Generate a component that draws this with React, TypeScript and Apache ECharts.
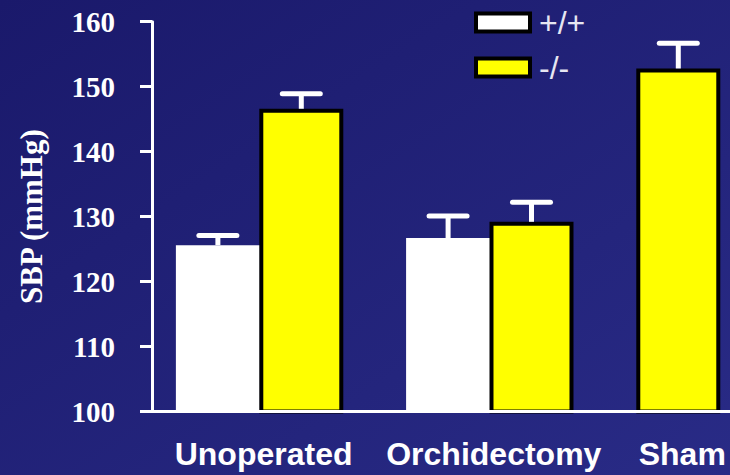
import { useEffect, useRef } from 'react';
import * as echarts from 'echarts';

// Systolic blood pressure by surgical group and genotype
const groups = ['Unoperated', 'Orchidectomy', 'Sham'];
const genotypes = ['+/+', '-/-'];
const wildType: (number | null)[] = [125.6, 126.7, null];
const wildTypeSem: (number | null)[] = [1.5, 3.4, null];
const knockout: (number | null)[] = [146.6, 129.2, 152.8];
const knockoutSem: (number | null)[] = [2.3, 3.0, 3.9];
const yTicks = [100, 110, 120, 130, 140, 150, 160];

// Horizontal layout in units of one bar width: bars of a group touch,
// groups are separated by a fixed gap, absent bars take no room.
const LEAD = 0.29;
const GROUP_GAP = 0.76;
const TAIL = 0.12;

function buildLayout() {
  const wt: number[][] = [];
  const ko: number[][] = [];
  const err: number[][] = [];
  const centers: number[] = [];
  let cursor = LEAD;
  groups.forEach((_, i) => {
    const start = cursor;
    const sets: [(number | null)[], (number | null)[], number[][]][] = [
      [wildType, wildTypeSem, wt],
      [knockout, knockoutSem, ko],
    ];
    sets.forEach(([vals, sems, out]) => {
      const v = vals[i];
      if (v == null) return;
      const x = cursor + 0.5;
      out.push([x, v]);
      err.push([x, v, v + (sems[i] ?? 0)]);
      cursor += 1;
    });
    centers.push((start + cursor) / 2);
    cursor += GROUP_GAP;
  });
  const xMax = cursor - GROUP_GAP + TAIL;
  return { wt, ko, err, centers, xMax };
}

export default function App() {
  const ref = useRef<HTMLDivElement>(null);

  useEffect(() => {
    if (!ref.current) return;
    const chart = echarts.init(ref.current, null, { renderer: 'svg' });
    const { wt, ko, err, centers, xMax } = buildLayout();

    const option: any = {
      animation: false,
      backgroundColor: new echarts.graphic.LinearGradient(0, 0, 1, 1, [
        { offset: 0, color: '#1a196b' },
        { offset: 1, color: '#292b86' },
      ]),
      grid: { left: 152, right: 0, top: 21.7, bottom: 63.5 },
      legend: {
        orient: 'vertical',
        left: 474,
        top: 6.5,
        padding: 0,
        itemWidth: 54,
        itemHeight: 18,
        itemGap: 13,
        selectedMode: false,
        icon: 'rect',
        textStyle: {
          color: '#e6e6f2',
          fontFamily: '"Liberation Sans", Arial, sans-serif',
          fontSize: 32,
          padding: [0, 0, 0, 4],
        },
        data: [
          { name: genotypes[0], itemStyle: { color: '#ffffff', borderColor: '#000000', borderWidth: 4 } },
          { name: genotypes[1], itemStyle: { color: '#ffff00', borderColor: '#000000', borderWidth: 4 } },
        ],
      },
      xAxis: {
        type: 'value',
        min: 0,
        max: xMax,
        z: 5,
        splitLine: { show: false },
        axisTick: { show: false },
        axisLine: { show: true, lineStyle: { color: '#ffffff', width: 3 } },
        axisLabel: {
          customValues: centers,
          margin: 26,
          padding: [0, 0, 0, 8],
          color: '#ffffff',
          fontFamily: '"Liberation Sans", Arial, sans-serif',
          fontWeight: 'bold',
          fontSize: 32,
          formatter: (v: number) => {
            const i = centers.findIndex((c) => Math.abs(c - v) < 1e-6);
            return i >= 0 ? groups[i] : '';
          },
        },
      },
      yAxis: {
        type: 'value',
        min: yTicks[0],
        max: yTicks[yTicks.length - 1],
        interval: 10,
        name: 'SBP (mmHg)',
        nameLocation: 'middle',
        nameGap: 105,
        nameTextStyle: {
          color: '#ffffff',
          fontFamily: '"Liberation Serif", "Times New Roman", serif',
          fontWeight: 'bold',
          fontSize: 31,
        },
        splitLine: { show: false },
        axisLine: { show: true, lineStyle: { color: '#ffffff', width: 3 } },
        axisTick: { show: true, length: 12, lineStyle: { color: '#ffffff', width: 3 } },
        axisLabel: {
          margin: 37,
          color: '#ffffff',
          fontFamily: '"Liberation Serif", "Times New Roman", serif',
          fontWeight: 'bold',
          fontSize: 29,
        },
      },
      series: [
        {
          name: genotypes[0],
          type: 'bar',
          barWidth: 84,
          barGap: '-100%',
          data: wt,
          itemStyle: { color: '#ffffff' },
        },
        {
          name: genotypes[1],
          type: 'bar',
          barWidth: 84,
          barGap: '-100%',
          data: ko,
          itemStyle: { color: '#ffff00', borderColor: '#000000', borderWidth: 4 },
        },
        {
          name: 'SEM',
          type: 'custom',
          z: 4,
          data: err,
          encode: { x: 0, y: [1, 2] },
          renderItem: (_params: any, api: any) => {
            const x = api.value(0);
            const base = api.coord([x, api.value(1)]);
            const top = api.coord([x, api.value(2)]);
            return {
              type: 'group',
              children: [
                {
                  type: 'line',
                  shape: { x1: base[0], y1: base[1], x2: top[0], y2: top[1] },
                  style: { stroke: '#ffffff', lineWidth: 5 },
                },
                {
                  type: 'line',
                  shape: { x1: top[0] - 19, y1: top[1], x2: top[0] + 19, y2: top[1] },
                  style: { stroke: '#ffffff', lineWidth: 5, lineCap: 'round' },
                },
              ],
            };
          },
        },
      ],
    };

    chart.setOption(option);
    return () => chart.dispose();
  }, []);

  return (
    <div
      ref={ref}
      style={{ position: 'fixed', left: 0, top: 0, width: 730, height: 475 }}
    />
  );
}
